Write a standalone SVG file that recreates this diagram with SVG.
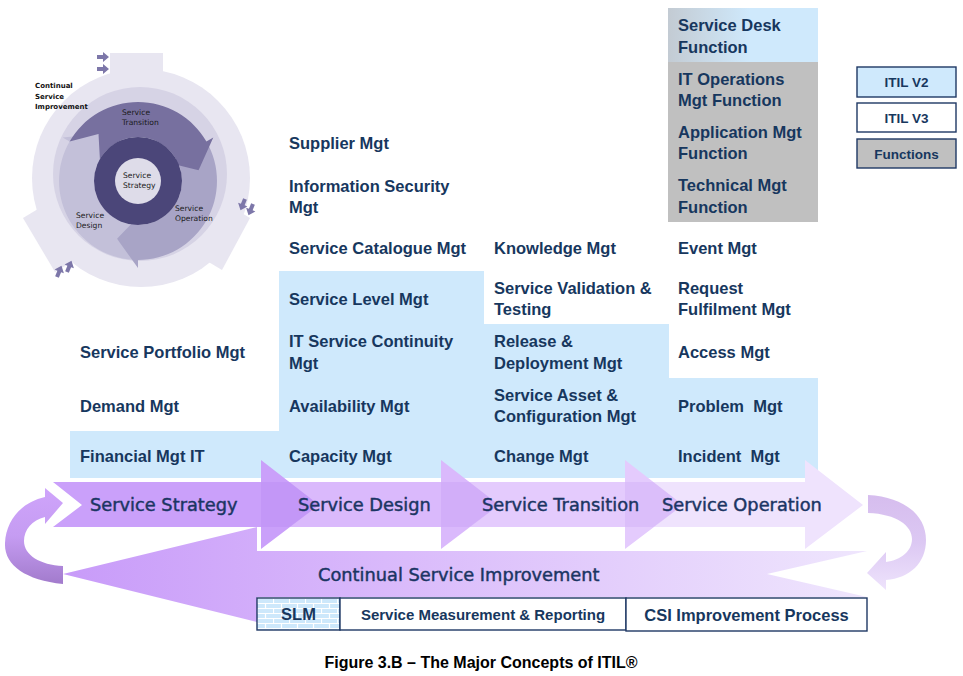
<svg xmlns="http://www.w3.org/2000/svg" width="963" height="676" viewBox="0 0 963 676">
<style>
.t{font-family:"Liberation Sans",Arial,sans-serif;font-weight:bold;font-size:16.5px;fill:#17375e;white-space:pre}
.lg{font-family:"Liberation Sans",Arial,sans-serif;font-weight:bold;font-size:13.5px;fill:#17375e;text-anchor:middle}
.st{font-family:"DejaVu Sans",Verdana,sans-serif;font-size:17.8px;fill:#1b3563;stroke:#1b3563;stroke-width:0.45}
.w{font-family:"DejaVu Sans",Verdana,sans-serif;font-size:7.6px;fill:#1a1a1a}
.wb{font-family:"DejaVu Sans",Verdana,sans-serif;font-size:7px;font-weight:bold;fill:#111}
.blue{fill:#cfe9fc}
.box{stroke:#1f3864;stroke-width:1.4}
.ov{fill:#8a46e0;fill-opacity:0.09}
.sa{fill:#7d77a9}
</style>
<defs>
<linearGradient id="sdg" x1="0" y1="0" x2="1" y2="0">
<stop offset="0" stop-color="#c3cbd3"/><stop offset="0.55" stop-color="#cfe9fc"/><stop offset="1" stop-color="#cfe9fc"/>
</linearGradient>
<linearGradient id="csig" gradientUnits="userSpaceOnUse" x1="63" y1="0" x2="867" y2="0">
<stop offset="0" stop-color="#c89bf9"/><stop offset="0.4" stop-color="#d9b9fb"/><stop offset="1" stop-color="#efe6fd"/>
</linearGradient>
<linearGradient id="lcg" x1="0" y1="0" x2="0" y2="1">
<stop offset="0" stop-color="#cfa4fb"/><stop offset="0.5" stop-color="#c59cf2"/><stop offset="1" stop-color="#a27bcc"/>
</linearGradient>
<linearGradient id="rcg" x1="0" y1="0" x2="0" y2="1">
<stop offset="0" stop-color="#d6bdee"/><stop offset="0.5" stop-color="#dcc8f3"/><stop offset="1" stop-color="#eee3fc"/>
</linearGradient>
<pattern id="brick" patternUnits="userSpaceOnUse" x="257" y="598" width="16" height="10">
<rect width="16" height="10" fill="#cde8fb"/>
<path d="M0,0.5H16M0,5.5H16M0.5,0V5.5M8.5,5.5V10" stroke="#fff" stroke-width="1.2"/>
</pattern>
<path id="sarr" d="M0,-2 L6,-2 L6,-5 L12,0 L6,5 L6,2 L0,2 Z"/>
</defs>

<rect width="963" height="676" fill="#fff"/>

<!-- lifecycle wheel -->
<g id="wheel">
<polygon points="110,53 163,53 163,95 110,95" fill="#e8e6f1"/>
<polygon points="250,218 222,270 192,252 220,200" fill="#e8e6f1"/>
<polygon points="23,218 55,272 85,254 53,200" fill="#e8e6f1"/>
<circle cx="141" cy="178" r="109" fill="#e8e6f1"/>
<circle cx="140" cy="174" r="87" fill="#d6d3e5"/>
<path d="M138,260 A79,79 0 0,1 69.6,141.5 L62.7,137.5 L98.5,133.9 L106.8,163 L99.9,159 A44,44 0 0,0 138,225 L117,238.8 Z" fill="#c3c0d9"/>
<path d="M206.4,141.5 A79,79 0 0,1 138,260 L138,268 L117,238.8 L138,217 L138,225 A44,44 0 0,0 176.1,159 L198.6,170.3 Z" fill="#a8a4c6"/>
<path d="M69.6,141.5 A79,79 0 0,1 206.4,141.5 L213.3,137.5 L198.6,170.3 L169.2,163 L176.1,159 A44,44 0 0,0 99.9,159 L98.5,133.9 Z" fill="#77709f"/>
<circle cx="138" cy="181" r="44" fill="#4b4679"/>
<circle cx="138" cy="181" r="23" fill="#dedce9"/>
<use href="#sarr" class="sa" transform="translate(97,57)"/>
<use href="#sarr" class="sa" transform="translate(97,69)"/>
<use href="#sarr" class="sa" transform="translate(245,199) rotate(112)"/>
<use href="#sarr" class="sa" transform="translate(253,204) rotate(112)"/>
<use href="#sarr" class="sa" transform="translate(57,277) rotate(-68)"/>
<use href="#sarr" class="sa" transform="translate(67,272) rotate(-68)"/>
<text class="wb" x="35" y="88">Continual</text>
<text class="wb" x="35" y="99">Service</text>
<text class="wb" x="35" y="109">Improvement</text>
<text class="w" x="122" y="114.5">Service</text>
<text class="w" x="122" y="124.5">Transition</text>
<text class="w" x="123" y="178">Service</text>
<text class="w" x="123" y="188">Strategy</text>
<text class="w" x="175" y="211">Service</text>
<text class="w" x="175" y="221">Operation</text>
<text class="w" x="76" y="218">Service</text>
<text class="w" x="76" y="228">Design</text>
</g>

<!-- backgrounds -->
<g id="backgrounds">
<rect class="blue" x="70" y="431" width="210" height="47"/>
<rect class="blue" x="279" y="271" width="205" height="207"/>
<rect class="blue" x="483" y="324" width="186" height="154"/>
<rect class="blue" x="668" y="378" width="150" height="100"/>
<rect x="668" y="8" width="150" height="214" fill="#c0c0c0"/>
<rect x="668" y="8" width="150" height="54" fill="url(#sdg)"/>
</g>

<!-- functions -->
<g id="service-desk-function"><text class="t" x="678" y="31">Service Desk</text><text class="t" x="678" y="53">Function</text></g>
<g id="it-operations-function"><text class="t" x="678" y="85">IT Operations</text><text class="t" x="678" y="106">Mgt Function</text></g>
<g id="application-mgt-function"><text class="t" x="678" y="138">Application Mgt</text><text class="t" x="678" y="159">Function</text></g>
<g id="technical-mgt-function"><text class="t" x="678" y="191">Technical Mgt</text><text class="t" x="678" y="213">Function</text></g>

<!-- column 1 -->
<g id="service-portfolio-mgt"><text class="t" x="80" y="358">Service Portfolio Mgt</text></g>
<g id="demand-mgt"><text class="t" x="80" y="412">Demand Mgt</text></g>
<g id="financial-mgt"><text class="t" x="80" y="462">Financial Mgt IT</text></g>

<!-- column 2 -->
<g id="supplier-mgt"><text class="t" x="289" y="149">Supplier Mgt</text></g>
<g id="information-security-mgt"><text class="t" x="289" y="192">Information Security</text><text class="t" x="289" y="213">Mgt</text></g>
<g id="service-catalogue-mgt"><text class="t" x="289" y="254">Service Catalogue Mgt</text></g>
<g id="service-level-mgt"><text class="t" x="289" y="305">Service Level Mgt</text></g>
<g id="it-service-continuity-mgt"><text class="t" x="289" y="347">IT Service Continuity</text><text class="t" x="289" y="369">Mgt</text></g>
<g id="availability-mgt"><text class="t" x="289" y="412">Availability Mgt</text></g>
<g id="capacity-mgt"><text class="t" x="289" y="462">Capacity Mgt</text></g>

<!-- column 3 -->
<g id="knowledge-mgt"><text class="t" x="494" y="254">Knowledge Mgt</text></g>
<g id="service-validation-testing"><text class="t" x="494" y="294">Service Validation &amp;</text><text class="t" x="494" y="315">Testing</text></g>
<g id="release-deployment-mgt"><text class="t" x="494" y="347">Release &amp;</text><text class="t" x="494" y="369">Deployment Mgt</text></g>
<g id="service-asset-configuration-mgt"><text class="t" x="494" y="401">Service Asset &amp;</text><text class="t" x="494" y="422">Configuration Mgt</text></g>
<g id="change-mgt"><text class="t" x="494" y="462">Change Mgt</text></g>

<!-- column 4 -->
<g id="event-mgt"><text class="t" x="678" y="254">Event Mgt</text></g>
<g id="request-fulfilment-mgt"><text class="t" x="678" y="294">Request</text><text class="t" x="678" y="315">Fulfilment Mgt</text></g>
<g id="access-mgt"><text class="t" x="678" y="358">Access Mgt</text></g>
<g id="problem-mgt"><text class="t" x="678" y="412" xml:space="preserve">Problem  Mgt</text></g>
<g id="incident-mgt"><text class="t" x="678" y="462" xml:space="preserve">Incident  Mgt</text></g>

<!-- legend -->
<g id="legend-itil-v2"><rect class="box" x="857" y="67" width="99" height="30" fill="#cfe9fc"/><text class="lg" x="906.5" y="87">ITIL V2</text></g>
<g id="legend-itil-v3"><rect class="box" x="857" y="103" width="99" height="29" fill="#fff"/><text class="lg" x="906.5" y="122.5">ITIL V3</text></g>
<g id="legend-functions"><rect class="box" x="857" y="139" width="99" height="29" fill="#c0c0c0"/><text class="lg" x="906.5" y="158.5">Functions</text></g>

<!-- CSI arrow -->
<g id="continual-service-improvement">
<path d="M63,574 L257,527 L257,551 L867,551 L767,574 L867,597 L257,597 L257,622 Z" fill="url(#csig)"/>
<text class="st" x="318" y="581">Continual Service Improvement</text>
</g>

<!-- stage arrows (drawn back to front) -->
<g id="service-operation"><path fill="#efe3fd" d="M625,482 H805 V460 L863,505 L805,549 V527 H625 Z"/></g>
<g id="service-transition"><path fill="#e4cbfd" d="M441,482 H625 V460 L683,505 L625,549 V527 H441 Z"/><polygon class="ov" points="625,482 653.4,482 683,505 653.4,527 625,527"/></g>
<g id="service-design"><path fill="#dab9fc" d="M261,482 H441 V460 L499,505 L441,549 V527 H261 Z"/><polygon class="ov" points="441,482 469.4,482 499,505 469.4,527 441,527"/></g>
<g id="service-strategy"><path fill="#caa0fa" d="M53,482 H261 V460 L319,505 L261,549 V527 H53 L82,505 Z"/><polygon class="ov" points="261,482 289.4,482 319,505 289.4,527 261,527"/></g>
<g id="stage-labels">
<text class="st" x="90" y="511">Service Strategy</text>
<text class="st" x="298" y="511">Service Design</text>
<text class="st" x="482" y="511">Service Transition</text>
<text class="st" x="662" y="511">Service Operation</text>
</g>

<!-- connectors -->
<g id="connectors">
<path d="M63,584 C25,580 4,565 5,543 C6,520 22,502 45,497 L45,488 L63,503 L45,524 L45,517 C32,520 24,530 24,541 C24,555 40,565 63,566 Z" fill="url(#lcg)"/>
<path d="M868,495 C904,497 926,515 926,540 C926,563 910,578 886,580 L886,590 L867,573 L886,552 L886,562 C901,560 912,551 912,539 C912,526 897,514 868,513 Z" fill="url(#rcg)"/>
</g>

<!-- bottom boxes -->
<g id="slm"><rect class="box" x="257" y="598" width="83" height="32" fill="url(#brick)"/><text class="t" x="298.5" y="620" font-size="16" text-anchor="middle">SLM</text></g>
<g id="service-measurement-reporting"><rect class="box" x="340" y="598" width="286" height="32" fill="#fff"/><text class="t" x="483" y="620" style="font-size:15px" text-anchor="middle">Service Measurement &amp; Reporting</text></g>
<g id="csi-improvement-process"><rect class="box" x="626" y="598" width="241" height="33" fill="#fff"/><text class="t" x="746.5" y="621" text-anchor="middle">CSI Improvement Process</text></g>

<g id="caption"><text x="481" y="668" text-anchor="middle" style="font-family:'Liberation Sans',Arial,sans-serif;font-weight:bold;font-size:16px;fill:#000">Figure 3.B – The Major Concepts of ITIL®</text></g>
</svg>
